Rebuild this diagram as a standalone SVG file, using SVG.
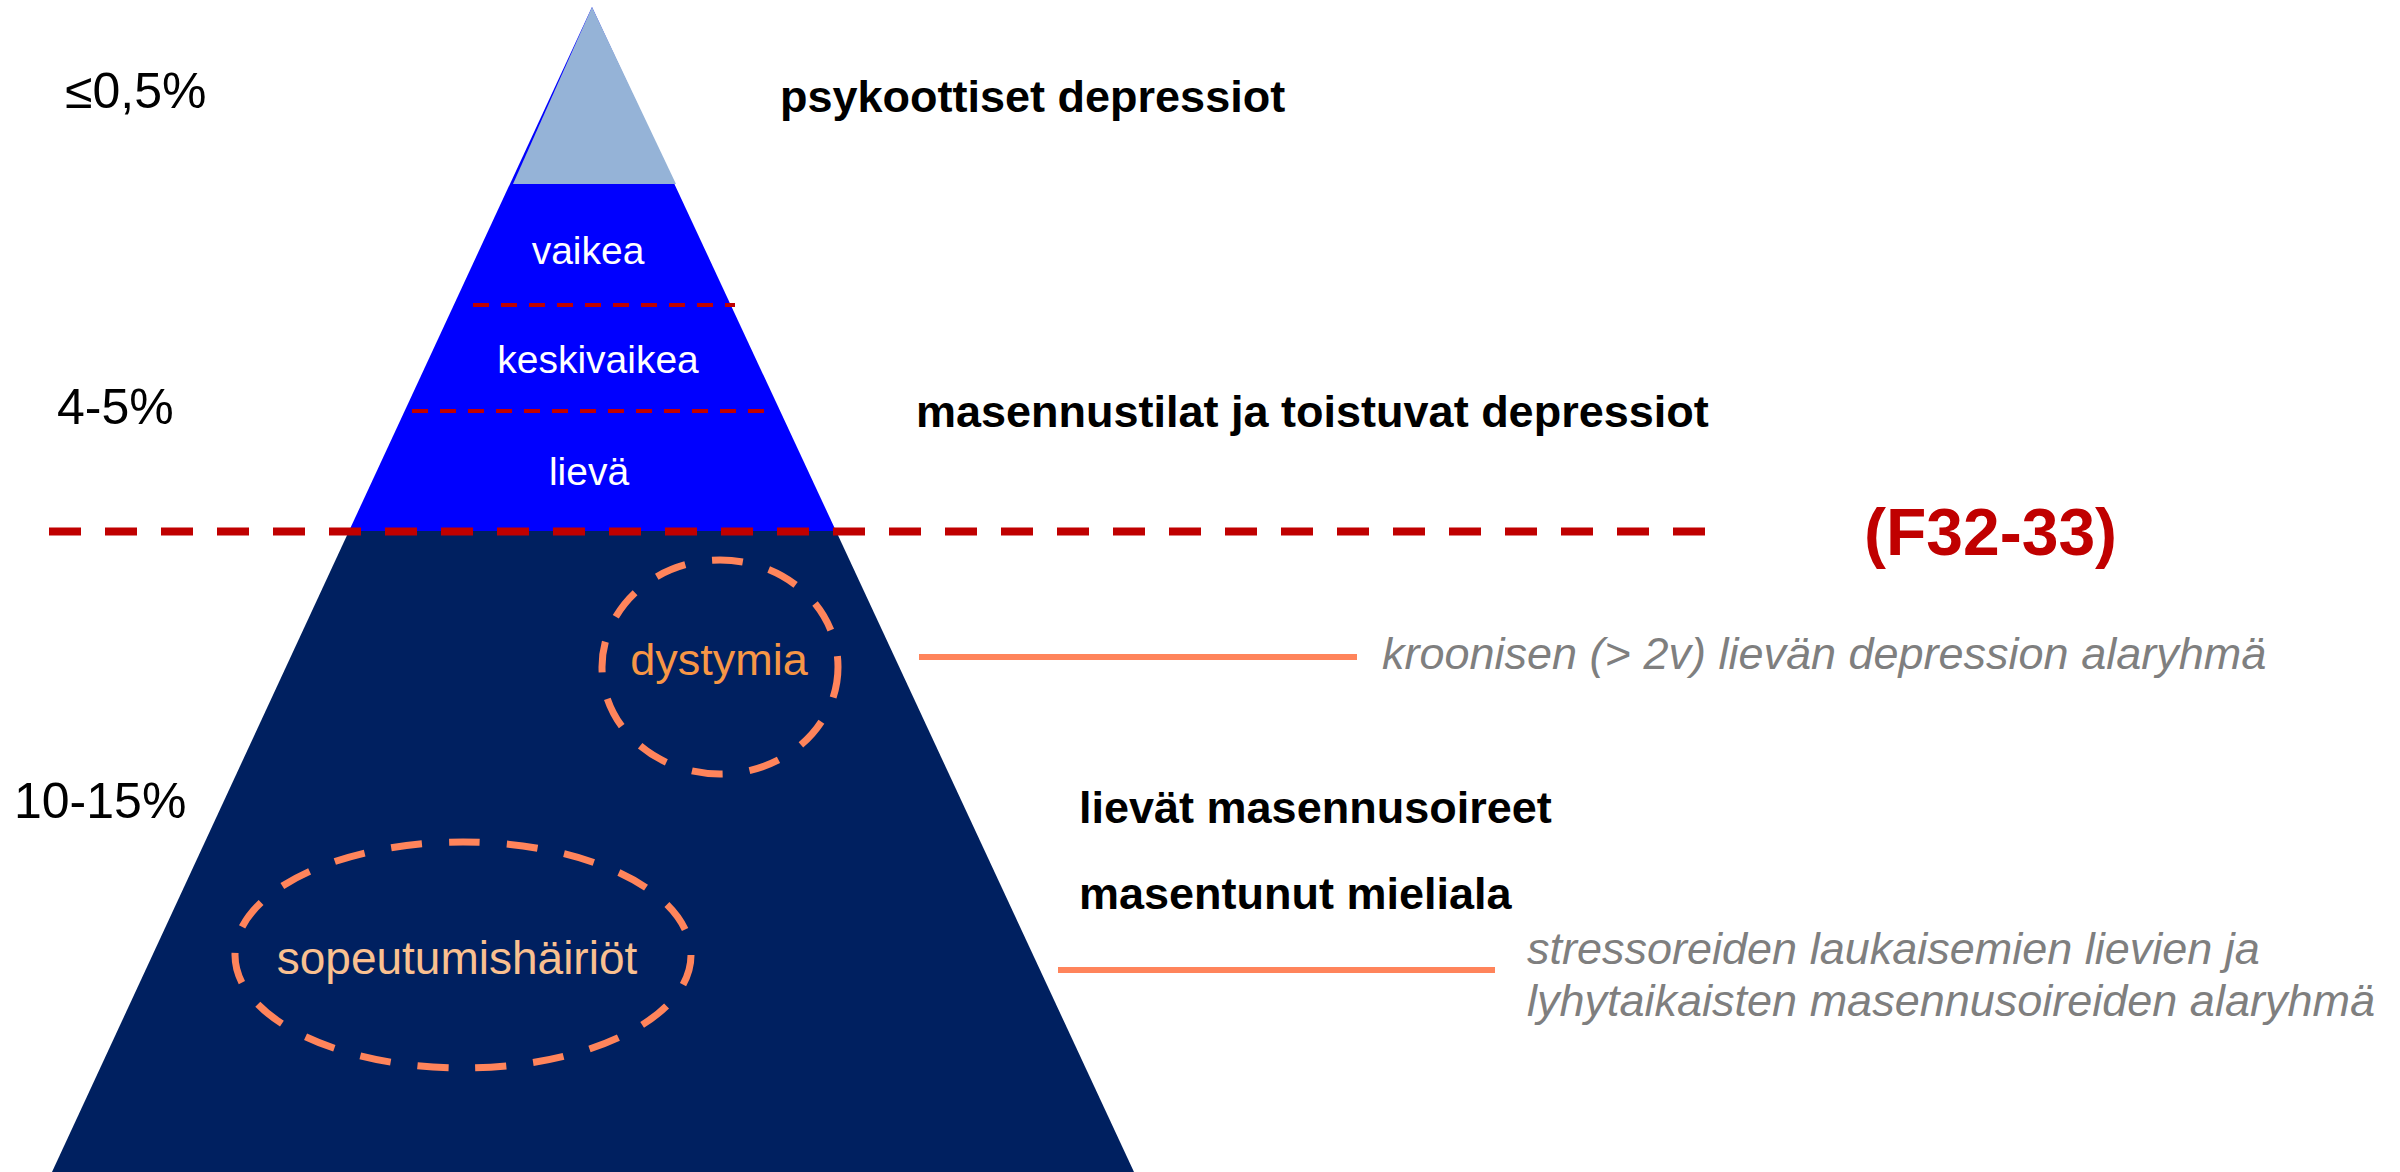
<svg xmlns="http://www.w3.org/2000/svg" width="2400" height="1172" viewBox="0 0 2400 1172">
<style>
text{font-family:"Liberation Sans",Arial,sans-serif}
.pct{font-size:50px;fill:#000}
.bold{font-size:45px;font-weight:bold;fill:#000}
.lvl{font-size:39px;fill:#fff;text-anchor:middle}
.note{font-size:45px;font-style:italic;fill:#7f7f7f}
.ring{fill:none;stroke:#ff845b;stroke-width:7;stroke-dasharray:31 27}
.lead{stroke:#ff845b;stroke-width:6}
.thin{stroke:#c00000;stroke-width:4;stroke-dasharray:16 12}
</style>
<rect width="2400" height="1172" fill="#fff"/>
<g id="pyramid">
<polygon points="592,7 349,531 836,531" fill="#0000ff"/>
<polygon points="592,7 513,184 676,184" fill="#95b3d7"/>
<polygon points="349,531 836,531 1134,1172 52,1172" fill="#002060"/>
</g>
<g id="dividers">
<line class="thin" x1="473" y1="305" x2="735" y2="305"/>
<line class="thin" x1="412" y1="411" x2="766" y2="411"/>
<line x1="49" y1="531.5" x2="1705" y2="531.5" stroke="#c00000" stroke-width="8" stroke-dasharray="32 24"/>
</g>
<g id="level-labels">
<text class="lvl" x="588" y="264">vaikea</text>
<text class="lvl" x="598" y="373">keskivaikea</text>
<text class="lvl" x="589" y="485">lievä</text>
</g>
<g id="percentages">
<text class="pct" x="65" y="108">≤0,5%</text>
<text class="pct" x="57" y="424">4-5%</text>
<text class="pct" x="14" y="818">10-15%</text>
</g>
<g id="categories">
<text class="bold" x="780" y="112">psykoottiset depressiot</text>
<text class="bold" x="916" y="427">masennustilat ja toistuvat depressiot</text>
<text x="1864" y="555" font-size="66" font-weight="bold" fill="#c00000">(F32-33)</text>
<text class="bold" x="1079" y="823">lievät masennusoireet</text>
<text class="bold" x="1079" y="909">masentunut mieliala</text>
</g>
<g id="dystymia">
<ellipse class="ring" cx="720" cy="667" rx="118" ry="107"/>
<text x="719" y="675" font-size="45" fill="#f79646" text-anchor="middle">dystymia</text>
</g>
<g id="sopeutumishairiot">
<ellipse class="ring" cx="463" cy="955" rx="228" ry="113"/>
<text x="457" y="974" font-size="46" fill="#fac090" text-anchor="middle">sopeutumishäiriöt</text>
</g>
<g id="connectors">
<line class="lead" x1="919" y1="657" x2="1357" y2="657"/>
<line class="lead" x1="1058" y1="970" x2="1495" y2="970"/>
</g>
<g id="notes">
<text class="note" x="1382" y="669" font-size="45.8">kroonisen (&gt; 2v) lievän depression alaryhmä</text>
<text class="note" x="1527" y="964">stressoreiden laukaisemien lievien ja</text>
<text class="note" x="1527" y="1016">lyhytaikaisten masennusoireiden alaryhmä</text>
</g>
</svg>
